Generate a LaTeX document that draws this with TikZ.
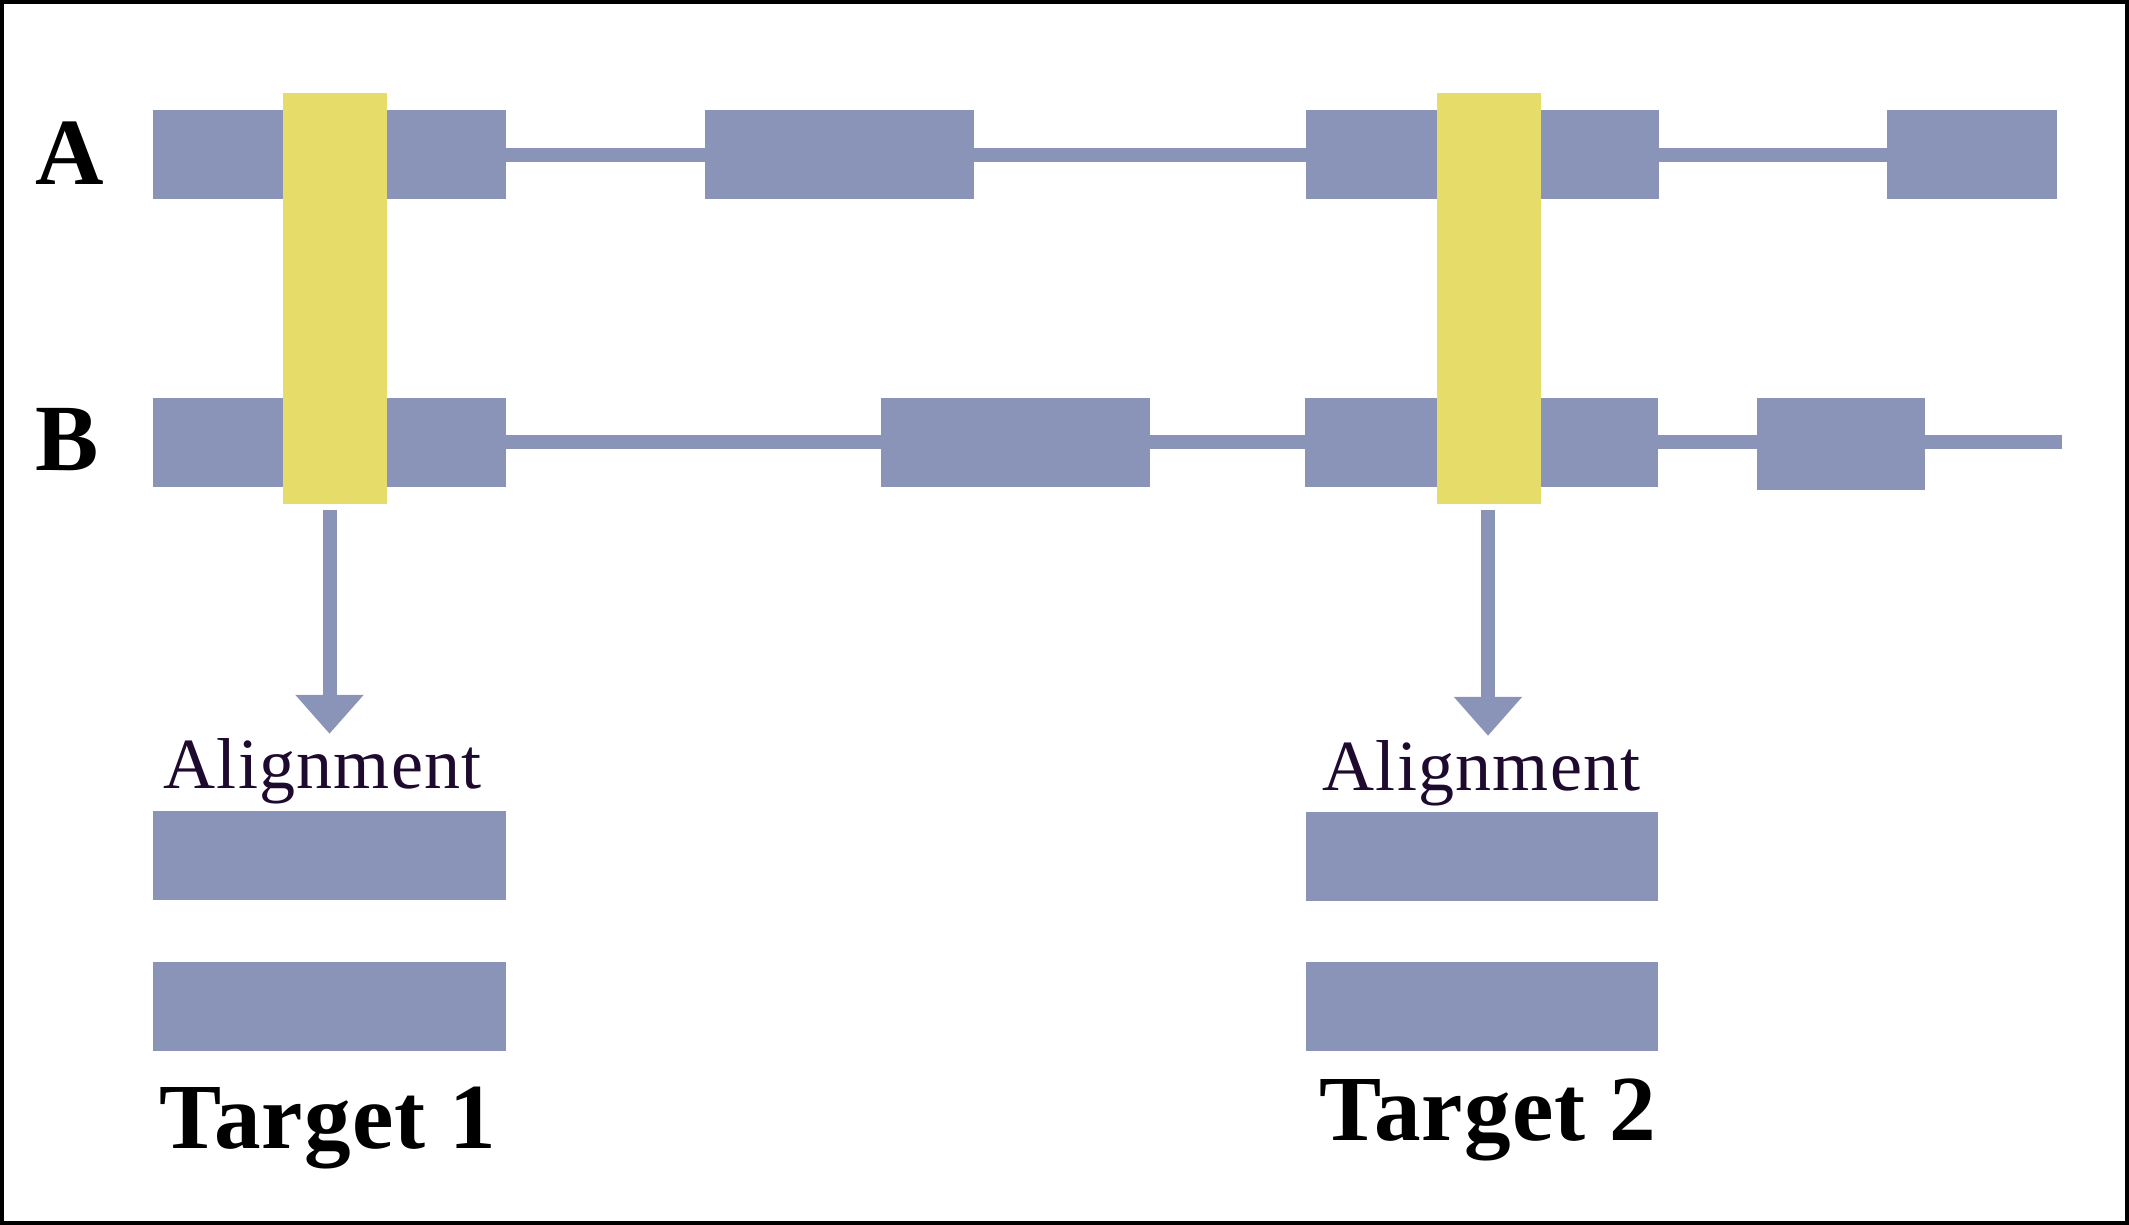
\documentclass[tikz,border=0pt]{standalone}
\usepackage{fontspec}
\setmainfont{Liberation Serif}
\newfontfamily\alignfont[LetterSpace=1.7]{Liberation Serif}
\newfontfamily\targetfont[LetterSpace=1.2]{Liberation Serif}
\usetikzlibrary{arrows.meta}
\definecolor{exonblue}{RGB}{138,148,184}
\definecolor{hityellow}{RGB}{230,220,106}
\definecolor{inkpurple}{RGB}{30,10,46}
\begin{document}
\begin{tikzpicture}[
		exon/.style={fill=exonblue, inner sep=0pt, outer sep=0pt, minimum height=0.89cm},
		intron/.style={exonblue, line width=0.14cm},
		hit/.style={fill=hityellow, inner sep=0pt, outer sep=0pt, minimum width=1.04cm, minimum height=4.11cm},
		flow/.style={exonblue, line width=0.14cm, -{Triangle[width=0.66cm, length=0.39cm]}},
		rowname/.style={font=\fontsize{27}{30}\selectfont\bfseries, inner sep=0pt, anchor=base west},
		alignname/.style={font=\alignfont\fontsize{20.5}{24}\selectfont, text=inkpurple, inner sep=0pt, anchor=base},
		targetname/.style={font=\targetfont\fontsize{26.5}{30}\selectfont\bfseries, inner sep=0pt, anchor=base}]
		\useasboundingbox (0,0) rectangle (21.29,12.25);
		\draw[line width=1pt] (0.018,0.018) rectangle (21.272,12.232);
		% row labels
		\node[rowname] (LA) at (0.35,10.40) {A};
		\node[rowname] (LB) at (0.35,7.54) {B};
		% transcript A
		\node[exon, minimum width=3.53cm] (A1) at (3.295,10.70) {};
		\node[exon, minimum width=2.69cm] (A2) at (8.395,10.70) {};
		\node[exon, minimum width=3.53cm] (A3) at (14.825,10.70) {};
		\node[exon, minimum width=1.70cm] (A4) at (19.72,10.70) {};
		\draw[intron] (A1)--(A2);
		\draw[intron] (A2)--(A3);
		\draw[intron] (A3)--(A4);
		% transcript B
		\node[exon, minimum width=3.53cm] (B1) at (3.295,7.825) {};
		\node[exon, minimum width=2.69cm] (B2) at (10.155,7.825) {};
		\node[exon, minimum width=3.53cm] (B3) at (14.815,7.825) {};
		\node[exon, minimum width=1.68cm, minimum height=0.92cm] (B4) at (18.41,7.81) {};
		\coordinate (Bend) at (20.62,7.825);
		\draw[intron] (B1)--(B2);
		\draw[intron] (B2)--(B3);
		\draw[intron] (B3)--(B3-|B4.west);
		\draw[intron] (B4.east|-Bend)--(Bend);
		% shared regions
		\node[hit] (Y1) at (3.35,9.265) {};
		\node[hit] (Y2) at (14.89,9.265) {};
		% targets
		\node[exon, minimum width=3.53cm] (T1a) at (3.295,3.695) {};
		\node[exon, minimum width=3.53cm] (T1b) at (3.295,2.18) {};
		\node[exon, minimum width=3.52cm] (T2a) at (14.82,3.685) {};
		\node[exon, minimum width=3.52cm] (T2b) at (14.82,2.18) {};
		\node[alignname] (M1) at (3.225,4.36) {Alignment};
		\node[alignname] (M2) at (14.815,4.34) {Alignment};
		\node[targetname] (N1) at (3.28,0.76) {Target 1};
		\node[targetname] (N2) at (14.88,0.84) {Target 2};
		\draw[flow, shorten <=0.06cm, shorten >=0.045cm] (Y1.south-|T1a.north)--(M1.north-|T1a.north);
		\draw[flow, shorten <=0.06cm, shorten >=0.045cm] (Y2.south-|N2.north)--(M2.north-|N2.north);
	\end{tikzpicture}
\end{document}
